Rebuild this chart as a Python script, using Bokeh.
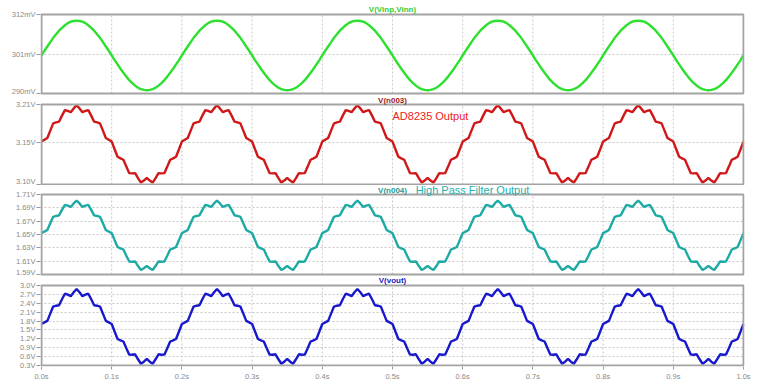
from bokeh.plotting import figure
from bokeh.layouts import column
from bokeh.models import Range1d, FixedTicker, Label
from bokeh.embed import file_html
from bokeh.resources import INLINE

# sample times (s), one sample every 1/240 s
time_s = [k / 240 for k in range(241)]

# V(Vinp,Vinn) in mV
v_in_mv = [
    300.6, 301.9, 303.1, 304.3, 305.5, 306.5, 307.5, 308.3, 309.0, 309.6, 310.0, 310.2, 310.3, 310.2, 310.0, 309.6, 309.0, 308.3, 307.5, 306.5, 305.5, 304.3, 303.1, 301.9,
    300.6, 299.3, 298.1, 296.9, 295.8, 294.7, 293.7, 292.9, 292.2, 291.6, 291.2, 291.0, 290.9, 291.0, 291.2, 291.6, 292.2, 292.9, 293.7, 294.7, 295.8, 296.9, 298.1, 299.3,
    300.6, 301.9, 303.1, 304.3, 305.5, 306.5, 307.5, 308.3, 309.0, 309.6, 310.0, 310.2, 310.3, 310.2, 310.0, 309.6, 309.0, 308.3, 307.5, 306.5, 305.5, 304.3, 303.1, 301.9,
    300.6, 299.3, 298.1, 296.9, 295.8, 294.7, 293.7, 292.9, 292.2, 291.6, 291.2, 291.0, 290.9, 291.0, 291.2, 291.6, 292.2, 292.9, 293.7, 294.7, 295.8, 296.9, 298.1, 299.3,
    300.6, 301.9, 303.1, 304.3, 305.5, 306.5, 307.5, 308.3, 309.0, 309.6, 310.0, 310.2, 310.3, 310.2, 310.0, 309.6, 309.0, 308.3, 307.5, 306.5, 305.5, 304.3, 303.1, 301.9,
    300.6, 299.3, 298.1, 296.9, 295.8, 294.7, 293.7, 292.9, 292.2, 291.6, 291.2, 291.0, 290.9, 291.0, 291.2, 291.6, 292.2, 292.9, 293.7, 294.7, 295.8, 296.9, 298.1, 299.3,
    300.6, 301.9, 303.1, 304.3, 305.5, 306.5, 307.5, 308.3, 309.0, 309.6, 310.0, 310.2, 310.3, 310.2, 310.0, 309.6, 309.0, 308.3, 307.5, 306.5, 305.5, 304.3, 303.1, 301.9,
    300.6, 299.3, 298.1, 296.9, 295.8, 294.7, 293.7, 292.9, 292.2, 291.6, 291.2, 291.0, 290.9, 291.0, 291.2, 291.6, 292.2, 292.9, 293.7, 294.7, 295.8, 296.9, 298.1, 299.3,
    300.6, 301.9, 303.1, 304.3, 305.5, 306.5, 307.5, 308.3, 309.0, 309.6, 310.0, 310.2, 310.3, 310.2, 310.0, 309.6, 309.0, 308.3, 307.5, 306.5, 305.5, 304.3, 303.1, 301.9,
    300.6, 299.3, 298.1, 296.9, 295.8, 294.7, 293.7, 292.9, 292.2, 291.6, 291.2, 291.0, 290.9, 291.0, 291.2, 291.6, 292.2, 292.9, 293.7, 294.7, 295.8, 296.9, 298.1, 299.3,
    300.6,
]

# V(n003) in V  (AD8235 output)
v_n003 = [
    3.159, 3.1615, 3.1639, 3.1741, 3.184, 3.1854, 3.1864, 3.1947, 3.2023, 3.2012, 3.1993, 3.2046, 3.209, 3.2046, 3.1993, 3.2012, 3.2023, 3.1947, 3.1864, 3.1854, 3.184, 3.1741, 3.1639, 3.1615,
    3.159, 3.1485, 3.1381, 3.1359, 3.134, 3.1246, 3.1156, 3.1153, 3.1157, 3.1088, 3.1027, 3.1054, 3.109, 3.1054, 3.1027, 3.1088, 3.1157, 3.1153, 3.1156, 3.1246, 3.134, 3.1359, 3.1381, 3.1485,
    3.159, 3.1615, 3.1639, 3.1741, 3.184, 3.1854, 3.1864, 3.1947, 3.2023, 3.2012, 3.1993, 3.2046, 3.209, 3.2046, 3.1993, 3.2012, 3.2023, 3.1947, 3.1864, 3.1854, 3.184, 3.1741, 3.1639, 3.1615,
    3.159, 3.1485, 3.1381, 3.1359, 3.134, 3.1246, 3.1156, 3.1153, 3.1157, 3.1088, 3.1027, 3.1054, 3.109, 3.1054, 3.1027, 3.1088, 3.1157, 3.1153, 3.1156, 3.1246, 3.134, 3.1359, 3.1381, 3.1485,
    3.159, 3.1615, 3.1639, 3.1741, 3.184, 3.1854, 3.1864, 3.1947, 3.2023, 3.2012, 3.1993, 3.2046, 3.209, 3.2046, 3.1993, 3.2012, 3.2023, 3.1947, 3.1864, 3.1854, 3.184, 3.1741, 3.1639, 3.1615,
    3.159, 3.1485, 3.1381, 3.1359, 3.134, 3.1246, 3.1156, 3.1153, 3.1157, 3.1088, 3.1027, 3.1054, 3.109, 3.1054, 3.1027, 3.1088, 3.1157, 3.1153, 3.1156, 3.1246, 3.134, 3.1359, 3.1381, 3.1485,
    3.159, 3.1615, 3.1639, 3.1741, 3.184, 3.1854, 3.1864, 3.1947, 3.2023, 3.2012, 3.1993, 3.2046, 3.209, 3.2046, 3.1993, 3.2012, 3.2023, 3.1947, 3.1864, 3.1854, 3.184, 3.1741, 3.1639, 3.1615,
    3.159, 3.1485, 3.1381, 3.1359, 3.134, 3.1246, 3.1156, 3.1153, 3.1157, 3.1088, 3.1027, 3.1054, 3.109, 3.1054, 3.1027, 3.1088, 3.1157, 3.1153, 3.1156, 3.1246, 3.134, 3.1359, 3.1381, 3.1485,
    3.159, 3.1615, 3.1639, 3.1741, 3.184, 3.1854, 3.1864, 3.1947, 3.2023, 3.2012, 3.1993, 3.2046, 3.209, 3.2046, 3.1993, 3.2012, 3.2023, 3.1947, 3.1864, 3.1854, 3.184, 3.1741, 3.1639, 3.1615,
    3.159, 3.1485, 3.1381, 3.1359, 3.134, 3.1246, 3.1156, 3.1153, 3.1157, 3.1088, 3.1027, 3.1054, 3.109, 3.1054, 3.1027, 3.1088, 3.1157, 3.1153, 3.1156, 3.1246, 3.134, 3.1359, 3.1381, 3.1485,
    3.159,
]

# V(n004) in V  (high pass filter output)
v_n004 = [
    1.652, 1.6544, 1.6567, 1.6668, 1.6765, 1.6778, 1.6786, 1.6869, 1.6944, 1.6933, 1.6913, 1.6966, 1.701, 1.6966, 1.6913, 1.6933, 1.6944, 1.6869, 1.6786, 1.6778, 1.6765, 1.6668, 1.6567, 1.6544,
    1.652, 1.6416, 1.6313, 1.6292, 1.6275, 1.6182, 1.6094, 1.6091, 1.6096, 1.6027, 1.5967, 1.5994, 1.603, 1.5994, 1.5967, 1.6027, 1.6096, 1.6091, 1.6094, 1.6182, 1.6275, 1.6292, 1.6313, 1.6416,
    1.652, 1.6544, 1.6567, 1.6668, 1.6765, 1.6778, 1.6786, 1.6869, 1.6944, 1.6933, 1.6913, 1.6966, 1.701, 1.6966, 1.6913, 1.6933, 1.6944, 1.6869, 1.6786, 1.6778, 1.6765, 1.6668, 1.6567, 1.6544,
    1.652, 1.6416, 1.6313, 1.6292, 1.6275, 1.6182, 1.6094, 1.6091, 1.6096, 1.6027, 1.5967, 1.5994, 1.603, 1.5994, 1.5967, 1.6027, 1.6096, 1.6091, 1.6094, 1.6182, 1.6275, 1.6292, 1.6313, 1.6416,
    1.652, 1.6544, 1.6567, 1.6668, 1.6765, 1.6778, 1.6786, 1.6869, 1.6944, 1.6933, 1.6913, 1.6966, 1.701, 1.6966, 1.6913, 1.6933, 1.6944, 1.6869, 1.6786, 1.6778, 1.6765, 1.6668, 1.6567, 1.6544,
    1.652, 1.6416, 1.6313, 1.6292, 1.6275, 1.6182, 1.6094, 1.6091, 1.6096, 1.6027, 1.5967, 1.5994, 1.603, 1.5994, 1.5967, 1.6027, 1.6096, 1.6091, 1.6094, 1.6182, 1.6275, 1.6292, 1.6313, 1.6416,
    1.652, 1.6544, 1.6567, 1.6668, 1.6765, 1.6778, 1.6786, 1.6869, 1.6944, 1.6933, 1.6913, 1.6966, 1.701, 1.6966, 1.6913, 1.6933, 1.6944, 1.6869, 1.6786, 1.6778, 1.6765, 1.6668, 1.6567, 1.6544,
    1.652, 1.6416, 1.6313, 1.6292, 1.6275, 1.6182, 1.6094, 1.6091, 1.6096, 1.6027, 1.5967, 1.5994, 1.603, 1.5994, 1.5967, 1.6027, 1.6096, 1.6091, 1.6094, 1.6182, 1.6275, 1.6292, 1.6313, 1.6416,
    1.652, 1.6544, 1.6567, 1.6668, 1.6765, 1.6778, 1.6786, 1.6869, 1.6944, 1.6933, 1.6913, 1.6966, 1.701, 1.6966, 1.6913, 1.6933, 1.6944, 1.6869, 1.6786, 1.6778, 1.6765, 1.6668, 1.6567, 1.6544,
    1.652, 1.6416, 1.6313, 1.6292, 1.6275, 1.6182, 1.6094, 1.6091, 1.6096, 1.6027, 1.5967, 1.5994, 1.603, 1.5994, 1.5967, 1.6027, 1.6096, 1.6091, 1.6094, 1.6182, 1.6275, 1.6292, 1.6313, 1.6416,
    1.652,
]

# V(vout) in V
v_out = [
    1.700, 1.754, 1.805, 2.052, 2.290, 2.318, 2.334, 2.536, 2.722, 2.690, 2.640, 2.770, 2.880, 2.770, 2.640, 2.690, 2.722, 2.536, 2.334, 2.318, 2.290, 2.052, 1.805, 1.754,
    1.700, 1.446, 1.195, 1.148, 1.110, 0.882, 0.666, 0.664, 0.678, 0.510, 0.360, 0.430, 0.520, 0.430, 0.360, 0.510, 0.678, 0.664, 0.666, 0.882, 1.110, 1.148, 1.195, 1.446,
    1.700, 1.754, 1.805, 2.052, 2.290, 2.318, 2.334, 2.536, 2.722, 2.690, 2.640, 2.770, 2.880, 2.770, 2.640, 2.690, 2.722, 2.536, 2.334, 2.318, 2.290, 2.052, 1.805, 1.754,
    1.700, 1.446, 1.195, 1.148, 1.110, 0.882, 0.666, 0.664, 0.678, 0.510, 0.360, 0.430, 0.520, 0.430, 0.360, 0.510, 0.678, 0.664, 0.666, 0.882, 1.110, 1.148, 1.195, 1.446,
    1.700, 1.754, 1.805, 2.052, 2.290, 2.318, 2.334, 2.536, 2.722, 2.690, 2.640, 2.770, 2.880, 2.770, 2.640, 2.690, 2.722, 2.536, 2.334, 2.318, 2.290, 2.052, 1.805, 1.754,
    1.700, 1.446, 1.195, 1.148, 1.110, 0.882, 0.666, 0.664, 0.678, 0.510, 0.360, 0.430, 0.520, 0.430, 0.360, 0.510, 0.678, 0.664, 0.666, 0.882, 1.110, 1.148, 1.195, 1.446,
    1.700, 1.754, 1.805, 2.052, 2.290, 2.318, 2.334, 2.536, 2.722, 2.690, 2.640, 2.770, 2.880, 2.770, 2.640, 2.690, 2.722, 2.536, 2.334, 2.318, 2.290, 2.052, 1.805, 1.754,
    1.700, 1.446, 1.195, 1.148, 1.110, 0.882, 0.666, 0.664, 0.678, 0.510, 0.360, 0.430, 0.520, 0.430, 0.360, 0.510, 0.678, 0.664, 0.666, 0.882, 1.110, 1.148, 1.195, 1.446,
    1.700, 1.754, 1.805, 2.052, 2.290, 2.318, 2.334, 2.536, 2.722, 2.690, 2.640, 2.770, 2.880, 2.770, 2.640, 2.690, 2.722, 2.536, 2.334, 2.318, 2.290, 2.052, 1.805, 1.754,
    1.700, 1.446, 1.195, 1.148, 1.110, 0.882, 0.666, 0.664, 0.678, 0.510, 0.360, 0.430, 0.520, 0.430, 0.360, 0.510, 0.678, 0.664, 0.666, 0.882, 1.110, 1.148, 1.195, 1.446,
    1.700,
]

# tick values and labels
x_ticks = [0.0, 0.1, 0.2, 0.3, 0.4, 0.5, 0.6, 0.7, 0.8, 0.9, 1.0]
x_tick_labels = ["0.0s", "0.1s", "0.2s", "0.3s", "0.4s", "0.5s", "0.6s", "0.7s", "0.8s", "0.9s", "1.0s"]
in_ticks = [290, 301, 312]
in_tick_labels = ["290mV", "301mV", "312mV"]
n003_ticks = [3.10, 3.158, 3.21]
n003_tick_labels = ["3.10V", "3.15V", "3.21V"]
n004_ticks = [1.59, 1.61, 1.63, 1.65, 1.67, 1.69, 1.71]
n004_tick_labels = ["1.59V", "1.61V", "1.63V", "1.65V", "1.67V", "1.69V", "1.71V"]
out_ticks = [0.3, 0.6, 0.9, 1.2, 1.5, 1.8, 2.1, 2.4, 2.7, 3.0]
out_tick_labels = ["0.3V", "0.6V", "0.9V", "1.2V", "1.5V", "1.8V", "2.1V", "2.4V", "2.7V", "3.0V"]

FONT = "Liberation Sans"
GRAY = "#a3a3a3"
PLOT_W = 702  # pixels spanned by 0..1 s
x_range = Range1d(-1 / PLOT_W, 1 + 1 / PLOT_W)


def make_panel(height, px_above, box_px, px_below, bottom_border, ticks, labels, with_x):
    lo, hi = ticks[0], ticks[-1]
    per = (hi - lo) / box_px
    y_range = Range1d(lo - px_below * per, hi + px_above * per)
    p = figure(width=760, height=height, x_range=x_range, y_range=y_range,
               output_backend="svg", toolbar_location=None,
               x_axis_location="below" if with_x else None,
               min_border_left=40, min_border_right=16,
               min_border_top=0, min_border_bottom=bottom_border)
    p.background_fill_color = "white"
    p.border_fill_color = "white"
    p.outline_line_color = None
    p.xgrid.visible = False
    p.yaxis.ticker = FixedTicker(ticks=ticks)
    p.yaxis.major_label_overrides = {t: l for t, l in zip(ticks, labels)}
    p.yaxis.axis_line_color = None
    p.yaxis.major_tick_out = 4
    p.yaxis.major_tick_in = 0
    p.yaxis.major_tick_line_color = "#999999"
    p.yaxis.minor_tick_line_color = None
    p.yaxis.major_label_standoff = 1
    p.yaxis.major_label_text_font = FONT
    p.yaxis.major_label_text_font_size = "7.5px"
    p.yaxis.major_label_text_color = "#8a8a8a"
    p.ygrid.ticker = FixedTicker(ticks=ticks)
    p.ygrid.grid_line_color = "#c8c8c8"
    p.ygrid.grid_line_dash = "2 2"
    p.ygrid.grid_line_width = 1
    # vertical dotted grid inside the panel box
    inner = x_ticks[1:-1]
    p.segment(x0=inner, y0=[lo] * len(inner), x1=inner, y1=[hi] * len(inner),
              line_color="#c8c8c8", line_dash="2 2", line_width=1)
    if with_x:
        p.xaxis.ticker = FixedTicker(ticks=x_ticks)
        p.xaxis.major_label_overrides = {t: l for t, l in zip(x_ticks, x_tick_labels)}
        p.xaxis.axis_line_color = None
        p.xaxis.major_tick_out = 3
        p.xaxis.major_tick_in = 0
        p.xaxis.major_tick_line_color = "#999999"
        p.xaxis.minor_tick_line_color = None
        p.xaxis.major_label_standoff = 2
        p.xaxis.major_label_text_font = FONT
        p.xaxis.major_label_text_font_size = "7.5px"
        p.xaxis.major_label_text_color = "#8a8a8a"
    return p, lo, hi, per


def box(p, lo, hi):
    p.quad(left=x_ticks[0], right=x_ticks[-1], bottom=lo, top=hi,
           fill_color=None, line_color=GRAY, line_width=2)


def title(p, text, y, color):
    p.add_layout(Label(x=0.5, y=y, text=text, text_align="center", text_baseline="middle",
                       text_font=FONT, text_font_size="8px", text_font_style="bold",
                       text_color=color))


p1, lo1, hi1, per1 = make_panel(95, 14, 79, 2, 0, in_ticks, in_tick_labels, False)
p1.line(time_s, v_in_mv, line_color="#2ee02e", line_width=2.4)
box(p1, lo1, hi1)
title(p1, "V(Vinp,Vinn)", hi1 + 5 * per1, "#33cc33")

p2, lo2, hi2, per2 = make_panel(90, 9, 80, 1, 0, n003_ticks, n003_tick_labels, False)
p2.line(time_s, v_n003, line_color="#d01818", line_width=2.4)
box(p2, lo2, hi2)
title(p2, "V(n003)", hi2 + 4.5 * per2, "#a01818")
p2.add_layout(Label(x=0.5, y=hi2 - 11.5 * per2, text="AD8235 Output", text_align="left",
                    text_baseline="middle", text_font=FONT, text_font_size="11px",
                    text_color="#f02020"))

p3, lo3, hi3, per3 = make_panel(91, 9, 80, 2, 0, n004_ticks, n004_tick_labels, False)
p3.line(time_s, v_n004, line_color="#1eaaa4", line_width=2.4)
box(p3, lo3, hi3)
title(p3, "V(n004)", hi3 + 4 * per3, "#1a9a98")
p3.add_layout(Label(x=0.533, y=hi3 + 5 * per3, text="High Pass Filter Output", text_align="left",
                    text_baseline="middle", text_font=FONT, text_font_size="11px",
                    text_color="#22b0b0"))

p4, lo4, hi4, per4 = make_panel(110, 9, 80, 1, 20, out_ticks, out_tick_labels, True)
p4.line(time_s, v_out, line_color="#1818cc", line_width=2.4)
box(p4, lo4, hi4)
title(p4, "V(vout)", hi4 + 5 * per4, "#2020c0")

layout = column(p1, p2, p3, p4, spacing=0)
open("out.html", "w").write(file_html(layout, INLINE))
